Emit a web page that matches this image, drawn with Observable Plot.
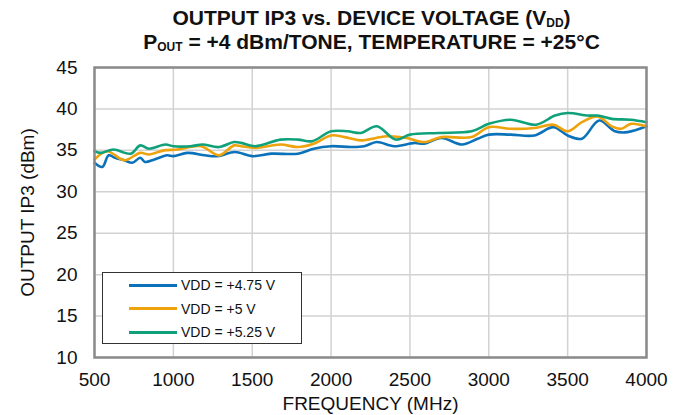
<!DOCTYPE html>
<html>
<head>
<meta charset="utf-8">
<script src="https://cdn.jsdelivr.net/npm/d3@7"></script>
<script src="https://cdn.jsdelivr.net/npm/@observablehq/plot@0.6"></script>
<style>
  html, body { margin: 0; padding: 0; background: #fff; }
  #wrap { position: relative; width: 683px; height: 415px; font-family: "Liberation Sans", Arial, sans-serif; }
  #title { height: 56px; text-align: center; font-weight: bold; font-size: 21px; line-height: 24px; color: #111; padding-top: 6px; padding-left: 60px; box-sizing: border-box; white-space: nowrap; }
  #title sub { font-size: 12px; vertical-align: -2px; line-height: 0; }
  #legend { position: absolute; left: 102px; top: 272px; width: 200px; height: 72px; border: 1px solid #333; background: #fff; box-sizing: border-box; font-size: 14px; color: #111; }
  .row { position: absolute; left: 26px; height: 18px; display: flex; align-items: center; }
  .sw { width: 48px; height: 3px; margin-right: 4px; }
</style>
</head>
<body>
<div id="wrap">
  <div id="title">OUTPUT IP3 vs. DEVICE VOLTAGE (V<sub>DD</sub>)<br>P<sub>OUT</sub> = +4 dBm/TONE, TEMPERATURE = +25°C</div>
  <div id="chart"></div>
  <div id="legend"></div>
</div>
<script>
const seriesNames = ["VDD = +4.75 V", "VDD = +5 V", "VDD = +5.25 V"];
const seriesColors = ["#0b72b9", "#eea20c", "#10a17a"];

const freq475 = [500,550,590,630,690,740,790,820,880,960,1000,1090,1200,1280,1390,1500,1620,1790,1890,2000,2130,2210,2290,2400,2530,2590,2700,2830,2930,3000,3140,3290,3410,3500,3590,3700,3800,3880,4000];
const ip3475  = [33.5,33.0,34.4,34.1,33.8,33.5,34.1,33.6,33.9,34.4,34.3,34.7,34.4,34.3,34.8,34.3,34.6,34.6,35.2,35.5,35.4,35.5,36.0,35.5,35.9,35.8,36.5,35.7,36.4,36.9,36.9,36.8,37.8,36.8,36.4,38.6,37.3,37.2,37.9];

const freq500 = [500,580,690,790,845,940,1025,1175,1290,1385,1430,1520,1680,1790,1890,2000,2085,2190,2285,2360,2480,2590,2700,2890,3000,3140,3290,3410,3500,3590,3690,3780,3840,3900,4000];
const ip3500  = [33.9,34.9,33.8,34.7,34.5,35.0,35.1,35.5,34.4,35.6,35.5,35.3,35.7,35.4,35.8,36.8,36.6,36.2,36.5,36.7,36.5,36.0,36.6,36.6,37.8,37.6,37.7,38.1,37.3,38.4,39.1,37.9,37.6,38.2,37.9];

const freq525 = [500,540,620,730,790,845,950,1000,1110,1185,1290,1385,1430,1520,1680,1790,1880,2000,2105,2190,2290,2410,2500,2680,2890,3000,3140,3300,3420,3500,3630,3690,3780,3900,4000];
const ip3525  = [34.9,34.7,35.1,34.6,35.6,35.2,35.7,35.5,35.5,35.7,35.4,36.0,35.9,35.5,36.3,36.3,36.1,37.3,37.3,37.1,37.9,36.3,36.9,37.1,37.3,38.2,38.7,38.1,39.2,39.5,39.2,39.2,38.8,38.7,38.4];

const xTicks = [500,1000,1500,2000,2500,3000,3500,4000];
const yTicks = [10,15,20,25,30,35,40,45];

const rows = [];
[[freq475, ip3475], [freq500, ip3500], [freq525, ip3525]].forEach(([f, v], i) => {
  f.forEach((x, j) => rows.push({freq: x, ip3: v[j], series: seriesNames[i]}));
});

const chart = Plot.plot({
  width: 683,
  height: 359,
  marginTop: 11,
  marginBottom: 58,
  marginLeft: 94,
  marginRight: 37,
  style: {fontFamily: "'Liberation Sans', Arial, sans-serif", fontSize: "19px", color: "#111", background: "#fff", overflow: "visible"},
  x: {domain: [500, 4000], label: null},
  y: {domain: [10, 45], label: null},
  color: {domain: seriesNames, range: seriesColors},
  marks: [
    Plot.gridX(xTicks, {stroke: "#d2d2d2", strokeOpacity: 1, strokeWidth: 1.5}),
    Plot.gridY(yTicks, {stroke: "#d2d2d2", strokeOpacity: 1, strokeWidth: 1.5}),
    Plot.axisX(xTicks, {tickSize: 0, tickPadding: 15, fontSize: 19, tickFormat: d => String(d), label: null}),
    Plot.axisY(yTicks, {tickSize: 0, tickPadding: 17, fontSize: 19, label: null}),
    Plot.line(rows, {x: "freq", y: "ip3", stroke: "series", z: "series", strokeWidth: 2.6, curve: "catmull-rom"}),
    Plot.frame({stroke: "#8a8a8a", strokeWidth: 2.5}),
    Plot.text(["FREQUENCY (MHz)"], {frameAnchor: "bottom", dy: 52, fontSize: 19, fill: "#111"}),
    Plot.text(["OUTPUT IP3 (dBm)"], {frameAnchor: "left", dx: -67, rotate: -90, textAnchor: "middle", fontSize: 19, fill: "#111"})
  ]
});
document.getElementById("chart").appendChild(chart);

const leg = document.getElementById("legend");
seriesNames.forEach((name, i) => {
  const r = document.createElement("div");
  r.className = "row";
  r.style.top = (3 + i * 23.5) + "px";
  r.innerHTML = `<div class="sw" style="background:${seriesColors[i]}"></div><span>${name}</span>`;
  leg.appendChild(r);
});
</script>
</body>
</html>
